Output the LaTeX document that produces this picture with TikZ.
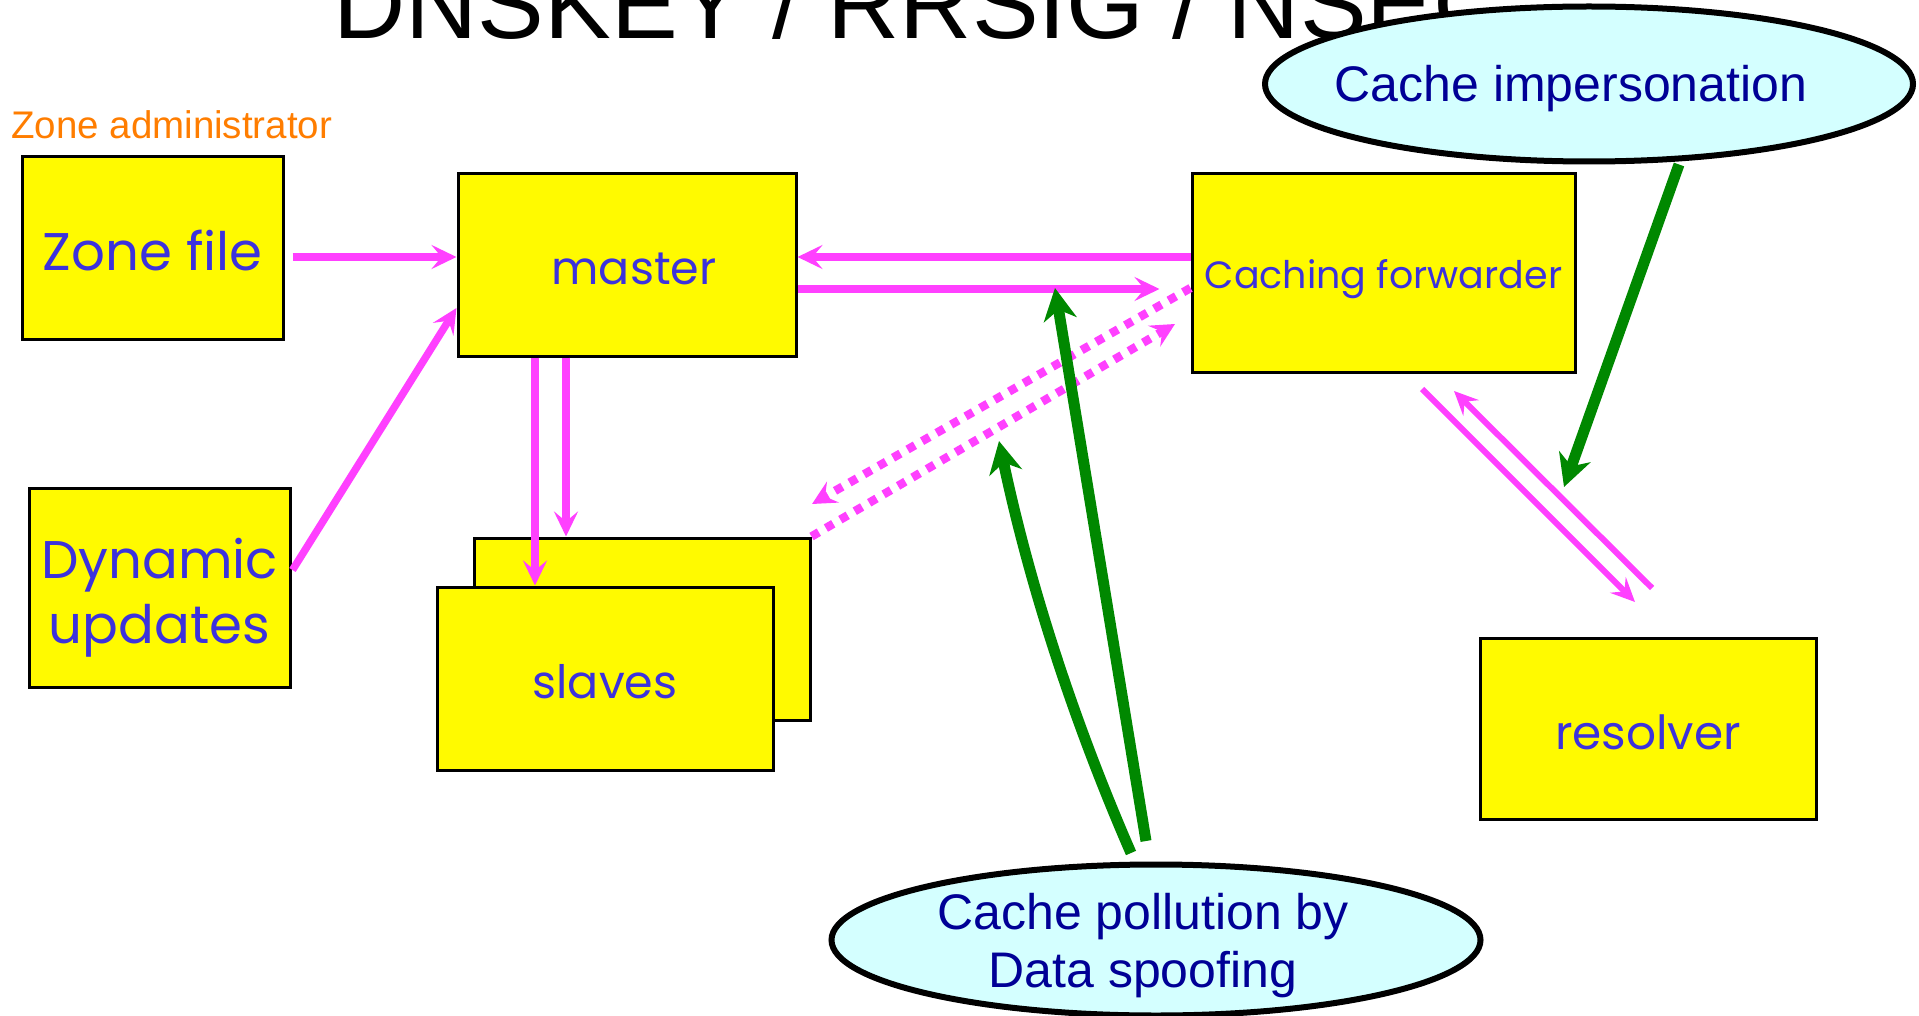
\documentclass[tikz,border=0pt]{standalone}
\usepackage{fontspec}
\setmainfont{Liberation Sans}
\newfontfamily\boxfont{Poppins}
\usetikzlibrary{arrows.meta,shapes.geometric}
\definecolor{boxyellow}{RGB}{255,250,0}
\definecolor{pinkarrow}{RGB}{255,64,255}
\definecolor{greenarrow}{RGB}{0,136,0}
\definecolor{cloudfill}{RGB}{212,255,255}
\definecolor{cloudtext}{RGB}{0,0,150}
\definecolor{labelblue}{RGB}{60,50,220}
\definecolor{adminorange}{RGB}{255,125,0}
\tikzset{
  box/.style={rectangle, draw=black, line width=3pt, fill=boxyellow, inner sep=0pt, text=labelblue},
  attack/.style={ellipse, draw=black, line width=6pt, fill=cloudfill, inner xsep=-45pt, inner ysep=-20pt, text=cloudtext, font=\fontsize{50}{58}\selectfont},
  pk/.style={draw=pinkarrow, line width=7.5pt, -{Stealth[length=25pt,width=24pt,inset=10pt]}},
  pkthin/.style={draw=pinkarrow, line width=6pt, -{Stealth[length=24pt,width=22pt,inset=9pt]}},
  pkdot/.style={draw=pinkarrow, line width=8.5pt, dash pattern=on 8.5pt off 8.2pt, -{Stealth[length=24pt,width=24pt,inset=9pt]}},
  gr/.style={draw=greenarrow, line width=11pt, -{Stealth[length=32pt,width=33pt,inset=10pt]}},
}
\begin{document}
\begin{tikzpicture}[x=1pt, y=-1pt]
\useasboundingbox (0,0) rectangle (1919,1016);
% title and header
\node[anchor=base west, inner sep=0pt, font=\fontsize{100}{120}\selectfont] (title) at (333,39) {DNSKEY / RRSIG / NSEC};
\node[anchor=base west, inner sep=0pt, text=adminorange, font=\fontsize{38.5}{46}\selectfont] (admin) at (11,139) {Zone administrator};
% boxes
\node[box, minimum width=261pt, minimum height=182pt, text height=46pt, text depth=0pt, font=\boxfont\fontsize{53}{64}\selectfont] (zone) at (152.5,248) {Zone file};
\node[box, minimum width=338pt, minimum height=182pt, text height=40pt, text depth=0pt, font=\boxfont\fontsize{46}{56}\selectfont] (master) at (627,265) {\hspace*{14pt}master};
\node[box, minimum width=261pt, minimum height=199pt, align=center, text height=111pt, text depth=0pt, font=\boxfont\fontsize{53}{65}\selectfont] (dyn) at (159.5,587.5) {Dynamic\\updates};
\node[box, minimum width=336pt, minimum height=182pt] (sback) at (642,629) {};
% magenta arrows around master
\draw[pk] ([shift={(8,9)}]zone.east) -- ([shift={(0,-8)}]master.west);
\draw[pk] ([shift={(1,-17.5)}]dyn.east) -- ([shift={(0,43)}]master.west);
\draw[pk] ([shift={(-61,0)}]master.south) -- ([shift={(-76,0)}]sback.north);
\node[box, minimum width=336pt, minimum height=183pt, text height=39pt, text depth=0pt, font=\boxfont\fontsize{46}{56}\selectfont] (sfront) at (605,678.5) {slaves};
\draw[pk] ([shift={(-92,0)}]master.south) -- ([shift={(-70,0)}]sfront.north);
\node[box, minimum width=383pt, minimum height=198pt, text height=30pt, text depth=0pt, font=\boxfont\fontsize{38}{48}\selectfont] (cach) at (1383.5,273) {Caching forwarder};
\node[box, minimum width=336pt, minimum height=181pt, text height=41pt, text depth=0pt, font=\boxfont\fontsize{47}{56}\selectfont] (res) at (1648,728.5) {resolver};
% free ends
\coordinate (d1e) at (812,504);
\coordinate (d2e) at (1175,324);
\coordinate (r1s) at (1422,389);
\coordinate (r1e) at (1635,602);
\coordinate (r2s) at (1652,588);
\coordinate (r2e) at (1454,391);
\coordinate (g1e) at (1564,487);
\coordinate (g2s) at (1146,841);
\coordinate (g2e) at (1055,288);
\coordinate (g3s) at (1131,853);
\coordinate (g3e) at (999,441);
% master <-> caching forwarder
\draw[pk] ([shift={(0,-16)}]cach.west) -- ([shift={(0,-8)}]master.east);
\draw[pk] ([shift={(0,24)}]master.east) -- ([shift={(-31,16)}]cach.west);
% dotted
\draw[pkdot] ([shift={(0,15)}]cach.west) -- (d1e);
\draw[pkdot] (sback.north east) -- (d2e);
% caching <-> resolver
\draw[pkthin] (r1s) -- (r1e);
\draw[pkthin] (r2s) -- (r2e);
% ellipses
\node[attack, minimum width=648pt, minimum height=155pt, text height=36pt, text depth=0pt] (imp) at (1589,84) {Cache impersonation\hspace*{36pt}};
\node[attack, minimum width=649pt, minimum height=151pt, align=center, text depth=0pt] (pol) at (1156,940) {Cache pollution by\hspace*{26pt}\\Data spoofing\hspace*{26pt}};
% green attacks
\draw[gr] ([shift={(90,0)}]imp.south) -- (g1e);
\draw[gr] (g2s) -- (g2e);
\draw[gr] (g3s) .. controls (1073,720) and (1029,583) .. (g3e);
\end{tikzpicture}
\end{document}
